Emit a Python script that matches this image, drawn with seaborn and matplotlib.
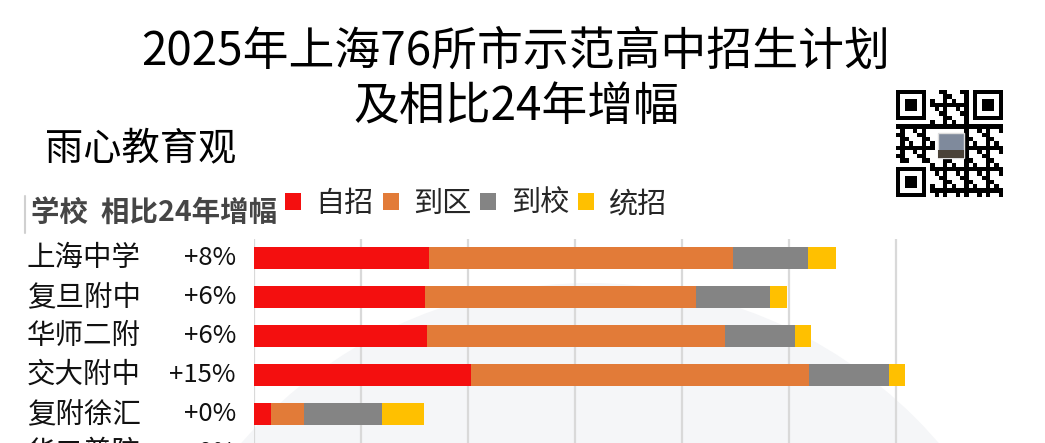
import numpy as np
import pandas as pd
import matplotlib
matplotlib.use("Agg")
import matplotlib.pyplot as plt
import matplotlib.transforms as mtransforms
from matplotlib.patches import Patch, Circle, Rectangle
from matplotlib.lines import Line2D
import seaborn as sns

# ---------------- data ----------------
schools = ["上海中学", "复旦附中", "华师二附", "交大附中", "复附徐汇"]
growth = ["+8%", "+6%", "+6%", "+15%", "+0%"]
zizhao = [164, 160, 162, 203, 16]      # 自招
daoqu = [284, 253, 278, 316, 31]       # 到区
daoxiao = [70, 69, 66, 74, 73]         # 到校
tongzhao = [26, 16, 15, 15, 39]        # 统招
series_names = ["自招", "到区", "到校", "统招"]
cut_school = "华二普陀"                 # row cut off at the bottom edge
cut_growth = "+0%"
x_ticks = [0, 100, 200, 300, 400, 500, 600]

title_1 = "2025年上海76所市示范高中招生计划"
title_2 = "及相比24年增幅"
brand = "雨心教育观"
header = "学校  相比24年增幅"

colors = ["#F40F0F", "#E27B38", "#848484", "#FFC000"]

# ---------------- figure ----------------
sns.set_theme(style="white")
plt.rcParams["font.family"] = ["Noto Sans CJK SC", "DejaVu Sans"]

W, H = 1045, 443
fig = plt.figure(figsize=(W / 100, H / 100), dpi=100)
fig.patch.set_facecolor("white")

# faint background dome
fig.add_artist(Circle((5.9, -3.0), 4.6, transform=fig.dpi_scale_trans,
                      facecolor="#F5F6F8", edgecolor="none", zorder=0))

# main axes
x0_px, ppu = 254, 1.07
xmax = 650
row_px = 39
top_px = 239
first_center = 258
ax_h_px = 6 * row_px
ax = fig.add_axes([x0_px / W, 1 - (top_px + ax_h_px) / H,
                   xmax * ppu / W, ax_h_px / H])
ax.set_facecolor("none")
ax.set_zorder(2)

vals = np.array([zizhao, daoqu, daoxiao, tongzhao], dtype=float)
cum = vals.cumsum(axis=0)
order = schools + [cut_school]
for k in range(3, -1, -1):
    df = pd.DataFrame({"school": schools, "value": cum[k]})
    sns.barplot(data=df, x="value", y="school", order=order, orient="h",
                color=colors[k], saturation=1, width=0.55, linewidth=0,
                ax=ax, errorbar=None)

ax.set_xlim(0, xmax)
top_val = -(first_center - top_px) / row_px
ax.set_ylim(top_val + 6, top_val)
ax.set_xticks(x_ticks)
ax.tick_params(left=False, labelleft=False, bottom=False, labelbottom=False)
ax.set_xlabel("")
ax.set_ylabel("")
ax.grid(axis="x", color="#D9D9D9", linewidth=1.6)
ax.grid(axis="y", visible=False)
ax.set_axisbelow(True)
for s in ax.spines.values():
    s.set_visible(False)

# row labels
trans = mtransforms.blended_transform_factory(fig.transFigure, ax.transData)
for i, (name, g) in enumerate(zip(schools + [cut_school], growth + [cut_growth])):
    ax.text(27 / W, i, name, transform=trans, ha="left", va="center",
            fontsize=20.5, color="#111111", clip_on=False)
    ax.text(236 / W, i, g, transform=trans, ha="right", va="center",
            fontsize=18.5, color="#111111", clip_on=False)

# titles
fig.text(516 / W, 1 - 52 / H, title_1, ha="center", va="center",
         fontsize=33, color="#000000")
fig.text(516 / W, 1 - 107 / H, title_2, ha="center", va="center",
         fontsize=33, color="#000000")
fig.text(45 / W, 1 - 149 / H, brand, ha="left", va="center",
         fontsize=27.5, color="#000000")

# header
fig.text(31 / W, 1 - 214 / H, header, ha="left", va="center",
         fontsize=20.5, color="#454545", fontweight="bold")
fig.add_artist(Line2D([25 / W, 25 / W], [1 - 196 / H, 1 - 233 / H],
                      transform=fig.transFigure, color="#D0D0D0", linewidth=1.5))

# legend
handles = [Patch(facecolor=c, edgecolor="none") for c in colors]
fig.legend(handles, series_names, loc="center left",
           bbox_to_anchor=(285 / W, 1 - 204 / H), ncol=4, frameon=False,
           fontsize=21, handlelength=0.55, handleheight=0.55,
           handletextpad=0.5, columnspacing=0.3, borderpad=0, borderaxespad=0)

# QR-code style badge (decorative)
qr = fig.add_axes([893 / W, 1 - 197 / H, 112 / W, 107 / H])
n = 25
grid = np.zeros((n, n))
ii, jj = np.meshgrid(np.arange(n), np.arange(n), indexing="ij")
grid[((ii * 7 + jj * 11 + ii * jj * 3) % 5) < 2] = 1
def finder(r, c):
    grid[r:r + 7, c:c + 7] = 1
    grid[r + 1:r + 6, c + 1:c + 6] = 0
    grid[r + 2:r + 5, c + 2:c + 5] = 1
for (r, c) in [(0, 0), (0, n - 7), (n - 7, 0)]:
    grid[max(r - 1, 0):r + 8, max(c - 1, 0):c + 8] = 0
    finder(r, c)
grid[9:16, 9:16] = 0
qr.imshow(grid, cmap="Greys", vmin=0, vmax=1, interpolation="nearest")
qr.add_patch(Rectangle((9.5, 9.5), 6, 6, facecolor="#7F8A9C", edgecolor="#DDDDDD",
                       linewidth=1))
qr.add_patch(Rectangle((9.5, 13.5), 6, 2, facecolor="#4A4238", edgecolor="none"))
qr.set_axis_off()

fig.savefig("out.png", dpi=100, facecolor="white")
